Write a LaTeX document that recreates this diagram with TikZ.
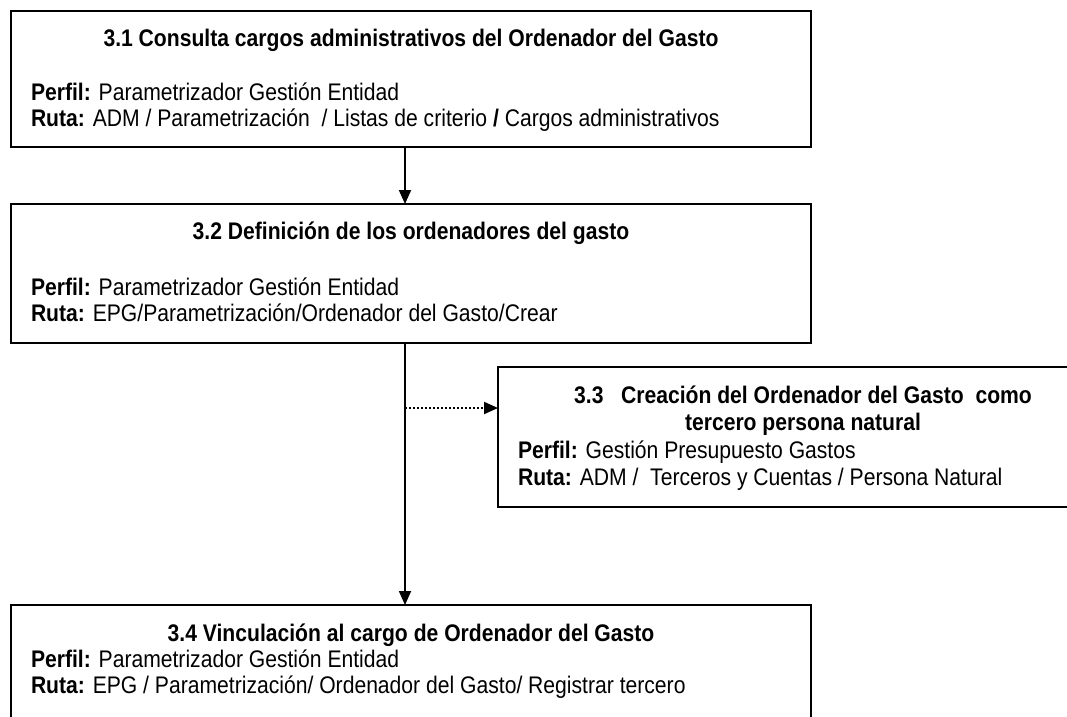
\documentclass[tikz,border=0pt]{standalone}
\usepackage{fontspec}
\setmainfont{Liberation Sans}[FakeStretch=0.88]
\usetikzlibrary{arrows.meta}
\tikzset{
  box/.style={draw=black, line width=1.6pt, inner sep=0pt, outer sep=0pt, anchor=north west},
  txt/.style={inner sep=0pt, outer sep=0pt, font=\fontsize{24}{28}\selectfont},
  arr/.style={line width=1.8pt, -{Triangle[length=14pt,width=12pt]}},
  dotarr/.style={line width=2pt, dash pattern=on 2pt off 2pt, -{Triangle[length=14pt,width=12pt]}}
}
\begin{document}
\begin{tikzpicture}[x=1pt,y=-1pt]
\useasboundingbox (0,0) rectangle (1067,716);
\clip (0,0) rectangle (1067,716);
% boxes
\node[box, minimum width=800pt, minimum height=136pt] (b1) at (11,11) {};
\node[box, minimum width=800pt, minimum height=139pt] (b2) at (11,204) {};
\node[box, minimum width=610pt, minimum height=140pt] (b3) at (498,367) {};
\node[box, minimum width=800pt, minimum height=160pt] (b4) at (11,605) {};
% texts box 1
\node[txt, anchor=base] (t1) at (411,46) {\textbf{3.1 Consulta cargos administrativos del Ordenador del Gasto}};
\node[txt, anchor=base west] (p1) at (31,100) {\textbf{Perfil:} Parametrizador Gestión Entidad};
\node[txt, anchor=base west] (r1) at (31,126) {\textbf{Ruta:} ADM / Parametrización \ / Listas de criterio \textbf{/} Cargos administrativos};
% texts box 2
\node[txt, anchor=base] (t2) at (411,239) {\textbf{3.2 Definición de los ordenadores del gasto}};
\node[txt, anchor=base west] (p2) at (31,295) {\textbf{Perfil:} Parametrizador Gestión Entidad};
\node[txt, anchor=base west] (r2) at (31,321) {\textbf{Ruta:} EPG/Parametrización/Ordenador del Gasto/Crear};
% texts box 3
\node[txt, anchor=base] (t3a) at (803,403) {\textbf{3.3 \ \ Creación del Ordenador del Gasto \ como}};
\node[txt, anchor=base] (t3b) at (803,430) {\textbf{tercero persona natural}};
\node[txt, anchor=base west] (p3) at (518,458) {\textbf{Perfil:} Gestión Presupuesto Gastos};
\node[txt, anchor=base west] (r3) at (518,485) {\textbf{Ruta:} ADM / \ Terceros y Cuentas / Persona Natural};
% texts box 4
\node[txt, anchor=base] (t4) at (411,641) {\textbf{3.4 Vinculación al cargo de Ordenador del Gasto}};
\node[txt, anchor=base west] (p4) at (31,667) {\textbf{Perfil:} Parametrizador Gestión Entidad};
\node[txt, anchor=base west] (r4) at (31,693) {\textbf{Ruta:} EPG / Parametrización/ Ordenador del Gasto/ Registrar tercero};
% connectors
\coordinate (bus) at (405,0);
\coordinate (tap) at (405,408);
\draw[arr] (b1.south -| bus) -- (b2.north -| bus);
\draw[arr] (b2.south -| bus) -- (b4.north -| bus);
\draw[dotarr] (tap) -- (tap -| b3.west);
\end{tikzpicture}
\end{document}
